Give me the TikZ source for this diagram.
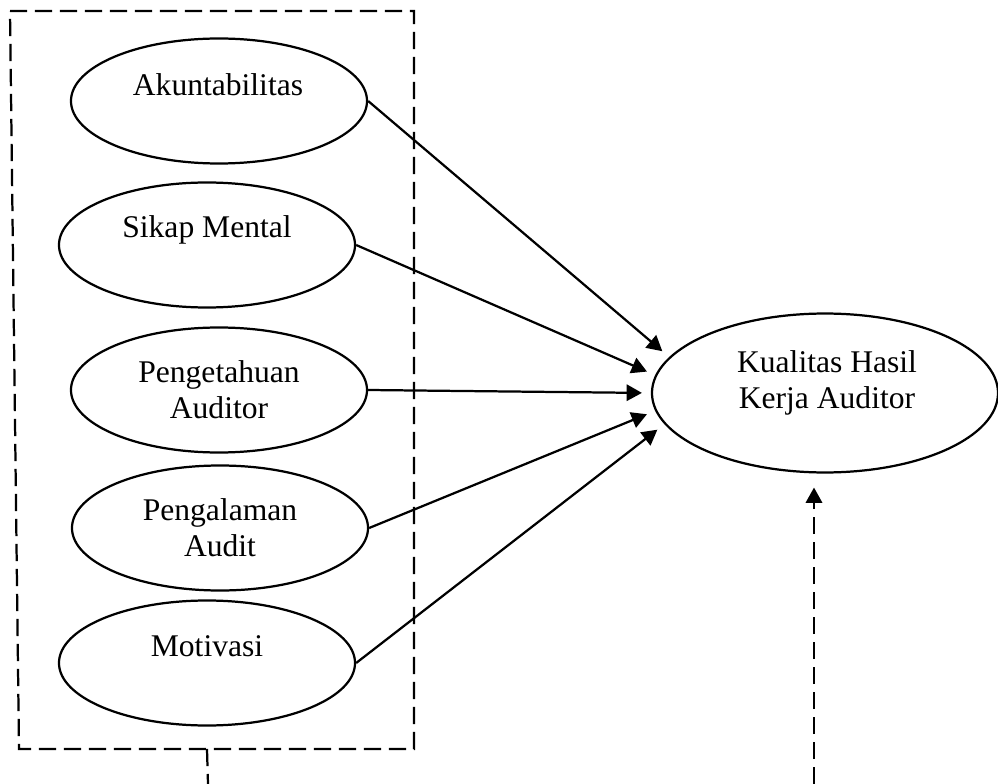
\documentclass[tikz,border=0pt]{standalone}
\usepackage{fontspec}
\setmainfont{Liberation Serif}
\usepackage{tikz}
\usetikzlibrary{arrows.meta,shapes.geometric}

\begin{document}
\begin{tikzpicture}[x=0.38pt,y=-0.38pt,line width=0.85pt,
  every node/.style={font=\fontsize{12pt}{13.8pt}\selectfont},
  var/.style={draw,ellipse,inner sep=0pt,align=center,minimum width=112.5pt,minimum height=47.5pt},
  dashline/.style={dash pattern=on 6.5pt off 3pt},
  arr/.style={-{Triangle[length=5.8pt,width=6.2pt]},shorten >=3.4pt}]
\useasboundingbox (0,0) rectangle (998,784);
% independent variables in a dashed box
\draw[dashline] (10,11) -- (414,11) -- (414,749) -- (19,749) -- cycle;
\coordinate (boxfoot) at (207,749);
\coordinate (stubend) at (208,784);
\draw[dashline] (boxfoot) -- (stubend);
\node (akun) at (219,101) [var] {};
\node (akuntext) at (218,96) [anchor=base] {Akuntabilitas};
\node (sikap) at (207,245) [var] {};
\node (sikaptext) at (207,238) [anchor=base] {Sikap Mental};
\node (penget) at (219,390) [var] {Pengetahuan\\Auditor};
\node (pengal) at (220,528) [var] {Pengalaman\\Audit};
\node (motiv) at (207,663) [var] {};
\node (motivtext) at (207,656) [anchor=base] {Motivasi};
% dependent variable
\node (kual) at (825,393) [var,minimum width=131.5pt,minimum height=60.4pt] {};
\node (kualtext) at (827,383) [align=center] {Kualitas Hasil\\Kerja Auditor};
\draw[arr] (akun.east) -- (kual.167.6);
\draw[arr] (sikap.east) -- (kual.174.1);
\draw[arr] (penget.east) -- (kual.west);
\draw[arr] (pengal.east) -- (kual.186);
\draw[arr] (motiv.east) -- (kual.191.5);
\coordinate (kualfoot) at (814,784);
\draw[arr,dashline,shorten >=5.3pt] (kualfoot) -- (kualfoot |- kual.south);
\end{tikzpicture}
\end{document}
